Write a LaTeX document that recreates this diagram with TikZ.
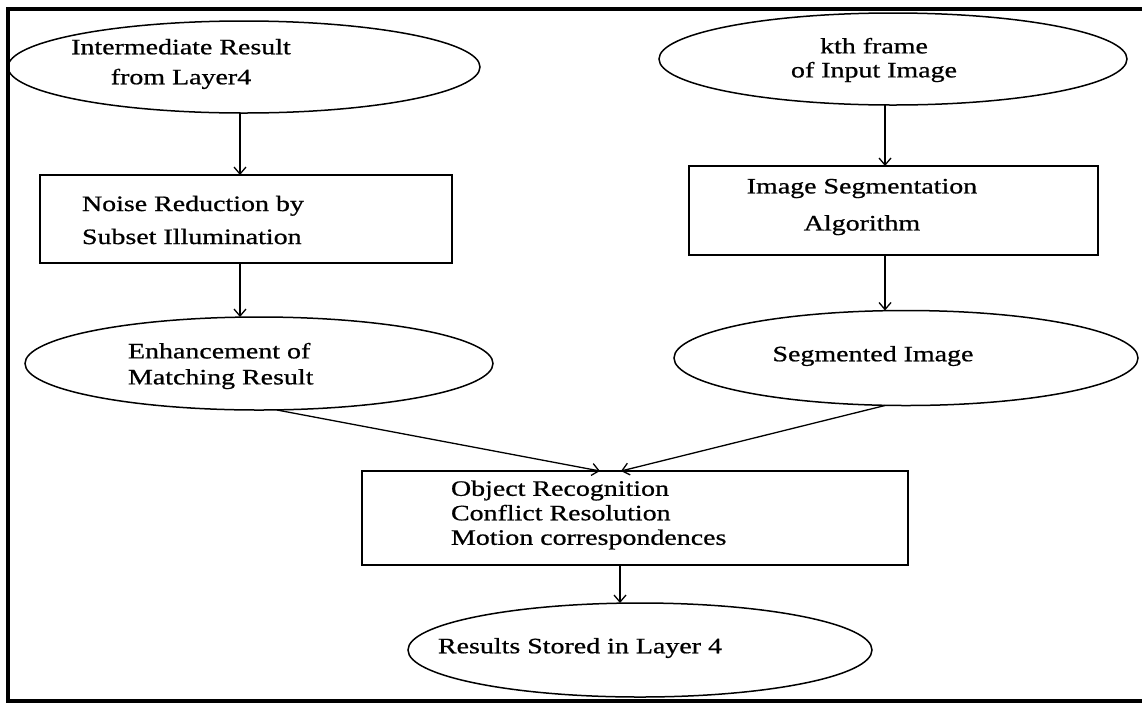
\documentclass[tikz,border=0pt]{standalone}
\usepackage{fontspec}
\setmainfont{Liberation Serif}[FakeStretch=1.27,FakeBold=0.8]
\usetikzlibrary{shapes.geometric,arrows.meta,calc}

\begin{document}
\begin{tikzpicture}[x=1pt,y=-1pt,
  every node/.style={inner sep=0pt, outer sep=0pt},
  oval/.style={draw, ellipse, line width=1.5pt},
  procbox/.style={draw, rectangle, line width=1.4pt},
  lbl/.style={font=\fontsize{22}{#1}\selectfont},
  arr/.style={-{Straight Barb[length=7pt,width=12pt]}, line width=1.3pt},
]
\useasboundingbox (0,0) rectangle (1142,705);

% outer frame (open on the right)
\draw[line width=3.5pt] (1150,9) -- (8,9) -- (8,701) -- (1150,701);

% shapes
\node[oval, minimum width=472pt, minimum height=92pt] (e1) at (244,67) {};
\node[procbox, minimum width=412pt, minimum height=88pt] (b1) at (246,219) {};
\node[oval, minimum width=468pt, minimum height=93pt] (e3) at (259,363.5) {};
\node[oval, minimum width=468pt, minimum height=92pt] (e2) at (893,59) {};
\node[procbox, minimum width=409pt, minimum height=89pt] (b2) at (893.5,210.5) {};
\node[oval, minimum width=464pt, minimum height=95pt] (e4) at (906,358) {};
\node[procbox, minimum width=546pt, minimum height=94pt] (b3) at (635,518) {};
\node[oval, minimum width=464pt, minimum height=94pt] (e5) at (640,650) {};

% labels
\node[lbl=30, align=center] (t1) at (181,64) {Intermediate Result\\from Layer4};
\node[lbl=24, align=center] (t2) at (874,60) {kth frame\\of Input Image};
\node[lbl=33, align=left, anchor=west] (t3) at (82,220) {Noise Reduction by\\Subset Illumination};
\node[lbl=37, align=center] (t4) at (862,207) {Image Segmentation\\Algorithm};
\node[lbl=26, align=left, anchor=west] (t5) at (128,366) {Enhancement of\\Matching Result};
\node[lbl=24, align=center] (t6) at (873,356) {Segmented Image};
\node[lbl=24.5, align=left, anchor=west] (t7) at (451,515) {Object Recognition\\Conflict Resolution\\Motion correspondences};
\node[lbl=24, anchor=west] (t8) at (438,648) {Results Stored in Layer 4};

% connectors
\draw[arr] ($(e1.south)+(-4,0)$) -- ($(b1.north)+(-6,0)$);
\draw[arr] ($(b1.south)+(-6,0)$) -- ($(e3.north)+(-19,0)$);
\draw[arr] ($(e2.south)+(-8,0)$) -- ($(b2.north)+(-8.5,0)$);
\draw[arr] ($(b2.south)+(-8.5,0)$) -- ($(e4.north)+(-21,0)$);
\draw[arr] ($(e3.south)+(18,0)$) -- ($(b3.north)+(-35,0)$);
\draw[arr] ($(e4.south)+(-21,0)$) -- ($(b3.north)+(-14,0)$);
\draw[arr] ($(b3.south)+(-15,0)$) -- ($(e5.north)+(-20,0)$);
\end{tikzpicture}
\end{document}
